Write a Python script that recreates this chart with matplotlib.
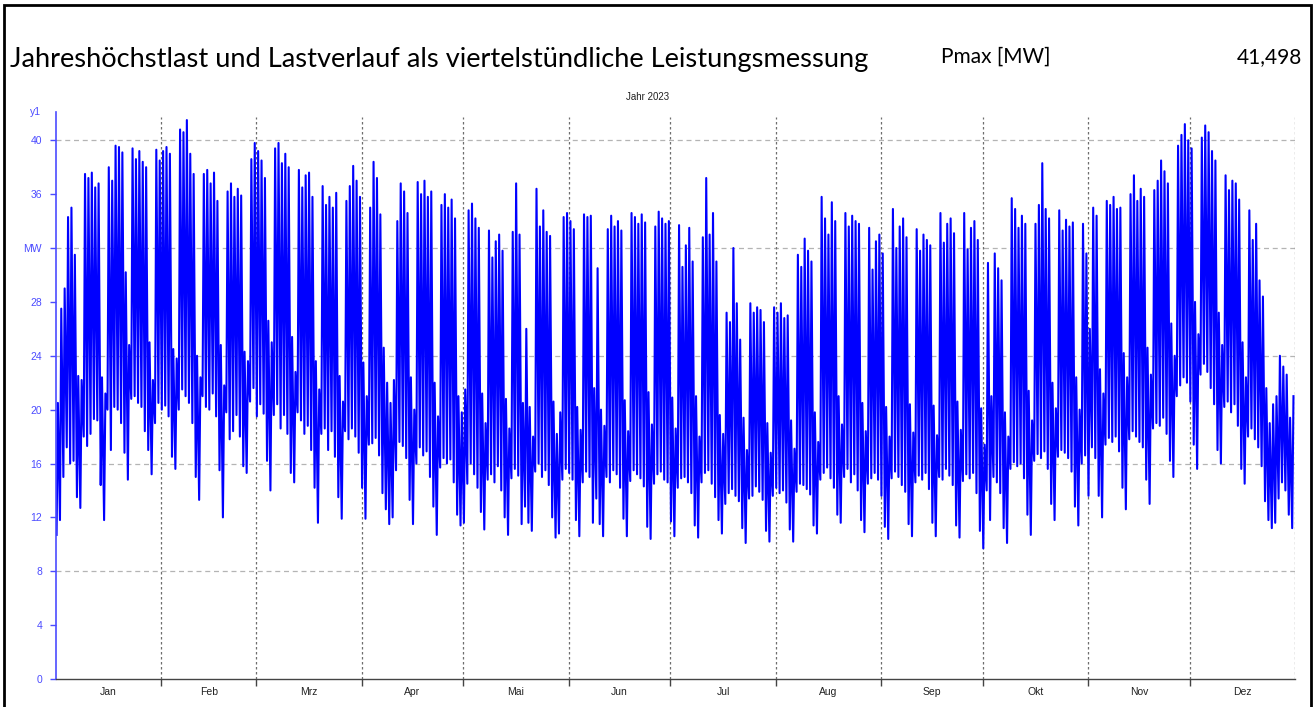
import numpy as np
import matplotlib
matplotlib.use("Agg")
import matplotlib.pyplot as plt
from matplotlib.patches import Rectangle

# Tagesspitze / naechtliches Minimum in MW, abgelesen aus dem Lastgang 2023
# (1. Jan = Sonntag, danach Wochen Mo..So)
daily_peak = [
    20.5,
    27.5, 29.0, 34.3, 35.0, 31.5, 22.5, 22.2,   # 02.01.
    37.5, 37.2, 37.6, 36.5, 36.8, 22.4, 21.2,   # 09.01.
    38.0, 37.0, 39.6, 39.5, 39.1, 30.2, 24.8,   # 16.01.
    39.4, 38.6, 39.2, 38.4, 38.0, 25.0, 22.2,   # 23.01.
    39.3, 38.5, 39.2, 39.5, 39.0, 24.5, 23.8,   # 30.01.
    40.8, 40.6, 41.5, 39.0, 37.5, 24.0, 22.4,   # 06.02.
    37.5, 37.8, 36.8, 37.6, 35.5, 24.8, 21.8,   # 13.02.
    36.2, 36.8, 35.8, 36.4, 35.9, 24.3, 23.6,   # 20.02.
    38.6, 39.8, 39.2, 38.5, 37.2, 26.6, 25.0,   # 27.02.
    39.4, 39.8, 38.3, 39.0, 38.0, 25.4, 22.8,   # 06.03.
    37.8, 36.5, 37.4, 37.6, 35.8, 23.6, 21.5,   # 13.03.
    36.6, 35.2, 35.8, 35.0, 36.1, 22.5, 20.6,   # 20.03.
    35.5, 36.6, 38.1, 37.0, 35.8, 23.5, 21.0,   # 27.03.
    35.0, 38.4, 37.2, 34.5, 24.6, 22.0, 20.5,   # 03.04.
    22.2, 34.0, 36.8, 36.2, 34.6, 22.4, 20.0,   # 10.04.
    36.9, 36.0, 37.0, 35.8, 36.2, 22.0, 19.5,   # 17.04.
    35.2, 36.0, 35.0, 35.6, 34.2, 21.0, 19.8,   # 24.04.
    21.5, 34.8, 35.3, 34.2, 33.5, 21.2, 19.0,   # 01.05.
    33.3, 31.3, 32.5, 33.0, 31.8, 20.8, 18.6,   # 08.05.
    33.2, 36.8, 33.0, 20.5, 26.0, 20.2, 18.0,   # 15.05.
    36.4, 33.6, 34.8, 33.2, 32.9, 20.6, 18.2,   # 22.05.
    19.8, 34.3, 34.6, 34.0, 33.4, 20.2, 18.5,   # 29.05.
    34.5, 34.3, 34.4, 21.6, 30.5, 20.0, 18.8,   # 05.06.
    33.4, 34.4, 33.6, 34.0, 33.3, 20.7, 18.4,   # 12.06.
    34.6, 34.3, 33.8, 34.5, 33.9, 21.3, 18.9,   # 19.06.
    33.6, 34.7, 34.2, 33.8, 34.0, 20.9, 18.6,   # 26.06.
    33.7, 30.6, 32.2, 33.5, 31.0, 21.0, 18.0,   # 03.07.
    32.8, 37.2, 33.0, 34.6, 31.0, 19.6, 18.2,   # 10.07.
    27.2, 26.5, 32.0, 27.9, 25.2, 19.4, 17.0,   # 17.07.
    27.9, 27.2, 27.6, 27.4, 26.5, 19.0, 16.8,   # 24.07.
    27.6, 27.2, 27.9, 26.8, 27.0, 19.2, 17.1,   # 31.07.
    31.5, 30.6, 32.7, 31.8, 31.0, 19.8, 17.6,   # 07.08.
    35.8, 34.2, 33.0, 35.4, 34.0, 21.0, 18.9,   # 14.08.
    34.6, 33.6, 34.4, 34.0, 33.8, 20.5, 18.4,   # 21.08.
    33.5, 30.4, 32.5, 33.0, 31.6, 20.2, 18.0,   # 28.08.
    34.9, 32.0, 33.6, 34.2, 32.8, 20.4, 18.3,   # 04.09.
    33.4, 31.8, 33.0, 32.6, 32.2, 20.3, 18.1,   # 11.09.
    34.6, 32.4, 33.8, 34.2, 33.1, 20.6, 18.5,   # 18.09.
    34.6, 31.9, 33.5, 34.0, 32.6, 20.1, 17.4,   # 25.09.
    30.9, 21.0, 31.6, 30.5, 29.6, 19.8, 18.0,   # 02.10.
    35.7, 34.9, 33.5, 34.4, 33.8, 21.4, 19.2,   # 09.10.
    33.8, 35.2, 38.3, 34.9, 34.2, 22.0, 20.1,   # 16.10.
    34.8, 33.3, 34.1, 33.6, 33.9, 22.4, 20.0,   # 23.10.
    33.8, 31.6, 26.0, 35.0, 34.4, 23.0, 21.2,   # 30.10.
    35.5, 35.2, 35.8, 34.9, 35.0, 24.2, 22.4,   # 06.11.
    36.0, 37.4, 35.5, 36.4, 35.8, 24.6, 22.6,   # 13.11.
    36.3, 37.0, 38.5, 37.7, 36.8, 26.4, 24.0,   # 20.11.
    39.6, 40.4, 41.2, 40.0, 39.4, 28.0, 25.6,   # 27.11.
    40.2, 41.1, 40.6, 39.2, 38.5, 27.2, 24.8,   # 04.12.
    37.4, 36.3, 37.0, 36.8, 35.6, 25.0, 22.4,   # 11.12.
    34.8, 32.6, 33.8, 29.6, 28.4, 21.6, 19.0,   # 18.12.
    20.4, 21.0, 24.0, 23.2, 22.6, 19.4, 21.0,   # 25.12.
]

daily_low = [
    10.7,
    11.8, 15.0, 17.2, 16.0, 16.2, 13.5, 12.7,
    18.0, 17.3, 18.2, 19.3, 19.2, 14.4, 11.8,
    20.0, 17.0, 20.2, 20.0, 19.0, 16.8, 14.8,
    20.8, 21.0, 20.5, 20.2, 18.4, 17.0, 15.2,
    19.0, 20.5, 20.0, 20.3, 19.5, 16.5, 15.6,
    20.0, 21.5, 21.0, 20.5, 19.0, 15.0, 13.3,
    21.0, 20.2, 20.0, 21.2, 19.5, 15.5, 12.0,
    19.8, 17.8, 18.4, 19.6, 18.0, 15.8, 15.3,
    20.6, 21.6, 19.5, 20.4, 19.7, 16.2, 14.0,
    19.6, 20.4, 18.6, 19.6, 18.2, 15.3, 14.6,
    19.8, 19.2, 18.2, 18.8, 17.0, 14.2, 11.6,
    18.2, 18.6, 17.0, 18.4, 16.5, 13.5, 11.9,
    18.4, 17.8, 18.6, 18.0, 16.8, 14.2, 11.9,
    17.4, 17.5, 17.9, 16.6, 13.8, 12.6, 11.5,
    12.0, 15.5, 17.6, 17.3, 16.4, 13.3, 11.5,
    16.0, 17.2, 16.6, 16.9, 15.0, 12.8, 10.7,
    15.7, 16.4, 16.0, 16.3, 14.6, 12.2, 11.4,
    11.6, 14.5, 16.0, 15.2, 14.2, 12.4, 11.1,
    14.8, 15.2, 14.6, 15.8, 14.0, 12.0, 10.7,
    14.9, 15.6, 15.1, 11.5, 12.8, 11.6, 11.0,
    15.4, 16.0, 15.0, 15.5, 14.4, 12.0, 10.5,
    10.8, 14.8, 15.6, 15.3, 14.8, 11.8, 10.6,
    14.6, 15.4, 15.0, 11.6, 13.4, 11.5, 10.6,
    15.0, 14.6, 15.5, 15.2, 14.2, 11.9, 10.6,
    14.7, 15.5, 15.2, 14.9, 14.3, 11.3, 10.4,
    14.5, 15.2, 15.4, 14.8, 14.6, 11.7, 10.6,
    14.2, 14.9, 15.0, 14.6, 13.8, 11.4, 10.5,
    14.6, 15.3, 15.5, 14.5, 13.5, 11.8, 10.8,
    13.0, 13.8, 14.1, 13.6, 13.2, 11.2, 10.1,
    13.4, 13.6, 14.3, 13.9, 13.3, 11.0, 10.2,
    13.6, 14.2, 13.8, 14.0, 13.1, 11.1, 10.2,
    13.9, 14.5, 14.4, 14.1, 13.7, 11.4, 10.8,
    14.8, 15.3, 15.7, 14.9, 14.2, 12.2, 11.6,
    15.0, 15.6, 14.6, 15.2, 14.0, 11.8, 10.9,
    14.5, 14.9, 15.3, 14.8, 13.6, 11.3, 10.4,
    14.9, 15.4, 15.0, 14.4, 13.9, 11.5, 10.6,
    14.6, 15.1, 14.8, 15.3, 14.1, 11.6, 10.6,
    15.0, 14.8, 15.6, 15.1, 14.4, 11.4, 10.5,
    14.7, 15.2, 14.9, 15.3, 13.8, 11.0, 9.7,
    14.0, 11.8, 15.0, 14.6, 13.8, 11.2, 10.1,
    15.6, 16.1, 15.8, 16.0, 14.9, 12.2, 10.7,
    16.2, 16.7, 16.4, 16.9, 15.6, 13.0, 11.8,
    16.5, 17.0, 16.8, 16.4, 15.4, 12.8, 11.4,
    16.0, 16.6, 13.6, 17.2, 16.4, 13.6, 12.0,
    17.4, 17.9, 17.6, 18.0, 16.9, 14.2, 12.6,
    17.8, 18.4, 18.0, 17.6, 17.2, 14.8, 13.0,
    18.6, 19.0, 18.8, 19.4, 18.2, 16.2, 15.0,
    21.0, 21.8, 22.4, 22.0, 20.6, 17.4, 15.6,
    22.6, 23.4, 22.8, 21.6, 20.4, 17.0, 16.0,
    20.2, 20.6, 19.8, 20.4, 18.8, 15.6, 14.5,
    18.0, 18.6, 17.8, 17.2, 15.8, 13.2, 11.8,
    11.2, 11.6, 13.4, 14.6, 14.0, 12.2, 11.2,
]

month_labels = ["Jan", "Feb", "Mrz", "Apr", "Mai", "Jun",
                "Jul", "Aug", "Sep", "Okt", "Nov", "Dez"]
month_days = [31, 28, 31, 30, 31, 30, 31, 31, 30, 31, 30, 31]

y_ticks = [0, 4, 8, 12, 16, 20, 24, 28, 32, 36, 40]
y_tick_labels = ["0", "4", "8", "12", "16", "20", "24", "28", "MW", "36", "40"]

title = "Jahreshöchstlast und Lastverlauf als viertelstündliche Leistungsmessung"
pmax_label = "Pmax [MW]"
pmax_value = "41,498"

# Verlauf: nachts Minimum, mittags Spitze
days = np.arange(len(daily_peak))
t = np.column_stack([days + 0.17, days + 0.55]).ravel()
p = np.column_stack([daily_low, daily_peak]).ravel()

month_edges = np.concatenate([[0], np.cumsum(month_days)])
month_mid = (month_edges[:-1] + month_edges[1:]) / 2

axis_blue = "#4b4bff"

fig = plt.figure(figsize=(13.16, 7.07), dpi=100)
ax = fig.add_axes([56 / 1316, 1 - 679 / 707, 1239 / 1316, 567 / 707])

ax.plot(t, p, color="#0000ff", linewidth=1.5)

ax.set_xlim(0, 365)
ax.set_ylim(0, 42.1)

# Gitter
for y in [8, 16, 24, 32, 40]:
    ax.axhline(y, color="#b4b4b4", linewidth=0.9, linestyle=(0, (4, 3)), zorder=0)
ax.vlines(month_edges[1:], 0, 41.7, color="#6e6e6e", linewidth=0.9,
          linestyles=(0, (2, 2)), zorder=0)

# Achsen
for s in ["top", "right"]:
    ax.spines[s].set_visible(False)
ax.spines["left"].set_color(axis_blue)
ax.spines["left"].set_linewidth(1.2)
ax.spines["bottom"].set_color("#444444")
ax.spines["bottom"].set_linewidth(1.0)

ax.set_yticks(y_ticks)
ax.set_yticklabels(y_tick_labels)
ax.tick_params(axis="y", colors=axis_blue, labelsize=7.5, length=4, width=1, pad=6)
for lab in ax.get_yticklabels():
    lab.set_fontfamily("Liberation Sans")

ax.set_xticks(month_edges[1:-1])
ax.set_xticklabels([])
ax.tick_params(axis="x", colors="#444444", length=5, width=1)
ax.set_xticks(month_mid, minor=True)
ax.set_xticklabels(month_labels, minor=True, fontsize=7.5, family="Liberation Sans")
ax.tick_params(axis="x", which="minor", length=0, pad=6, labelcolor="#222222")

ax.text(-0.012, 1.0, "y1", transform=ax.transAxes, color=axis_blue, fontsize=7.5,
        ha="right", va="center", family="Liberation Sans")

# Kopfzeile
fig.text(10 / 1316, 1 - 59 / 707, title, fontsize=19.6, family="Lato",
         ha="left", va="center")
fig.text(941 / 1316, 1 - 57 / 707, pmax_label, fontsize=15, family="Lato",
         ha="left", va="center")
fig.text(1302 / 1316, 1 - 57 / 707, pmax_value, fontsize=15, family="Lato",
         ha="right", va="center")
fig.text(648 / 1316, 1 - 97 / 707, "Jahr 2023", fontsize=7, family="Liberation Sans",
         ha="center", va="center", color="#222222")

# Rahmen
fig.patches.append(Rectangle((4 / 1316, -0.05), 1307 / 1316, 1.05 - 5 / 707,
                             transform=fig.transFigure, fill=False,
                             edgecolor="black", linewidth=2))

fig.savefig("out.png", dpi=100)
